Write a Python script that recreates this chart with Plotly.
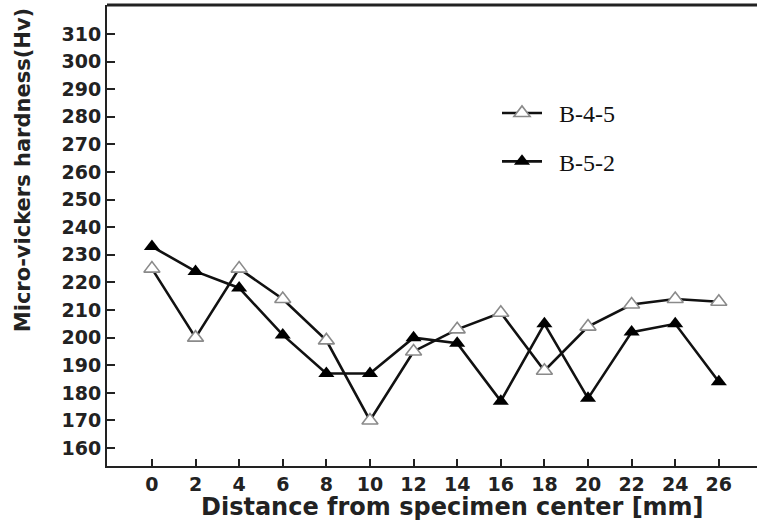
import plotly.graph_objects as go

# Micro-Vickers hardness profiles across the specimen
distance_mm = [0, 2, 4, 6, 8, 10, 12, 14, 16, 18, 20, 22, 24, 26]
hv_b45 = [225, 200, 225, 214, 199, 170, 195, 203, 209, 188, 204, 212, 214, 213]
hv_b52 = [233, 224, 218, 201, 187, 187, 200, 198, 177, 205, 178, 202, 205, 184]
y_ticks = list(range(160, 311, 10))
x_ticks = list(range(0, 27, 2))

fig = go.Figure()
fig.add_trace(go.Scatter(
    x=distance_mm, y=hv_b45, name="\u2002B-4-5", mode="lines+markers",
    line=dict(color="#111111", width=2.6),
    marker=dict(symbol="triangle-up", size=14, color="white",
                line=dict(color="#8a8a8a", width=1.6)),
    legend="legend",
))
fig.add_trace(go.Scatter(
    x=distance_mm, y=hv_b52, name="\u2002B-5-2", mode="lines+markers",
    line=dict(color="#111111", width=2.6),
    marker=dict(symbol="triangle-up", size=14, color="black"),
    legend="legend2",
))

legend_style = dict(font=dict(family="Liberation Serif", size=24, color="#111111"),
                    bgcolor="rgba(255,255,255,0)", borderwidth=0,
                    xanchor="left", yanchor="middle", itemwidth=40)
tick_font = dict(family="DejaVu Sans", size=19, color="#222222", weight="bold")
title_font = dict(family="DejaVu Sans", color="#222222", weight="bold")

fig.update_layout(
    width=757, height=529,
    margin=dict(l=107, r=0, t=5, b=63, pad=0),
    paper_bgcolor="white", plot_bgcolor="white",
    showlegend=True,
    legend=dict(x=0.6, y=0.765, **legend_style),
    legend2=dict(x=0.6, y=0.66, **legend_style),
    xaxis=dict(range=[-2.06, 27.75], tickvals=x_ticks, showline=True, linecolor="#222222",
               linewidth=2, ticks="inside", ticklen=7, tickwidth=2, tickcolor="#222222",
               showgrid=False, zeroline=False, tickfont=tick_font, ticklabelstandoff=0),
    yaxis=dict(range=[153.5, 320.5], tickvals=y_ticks, showline=True, linecolor="#222222",
               linewidth=2, ticks="inside", ticklen=8, tickwidth=2, tickcolor="#222222",
               showgrid=False, zeroline=False, tickfont=tick_font, ticklabelstandoff=0),
)

# Axis titles
fig.add_annotation(text="Distance from specimen center [mm]", xref="paper", yref="paper",
                   x=0.531, y=-0.089, xanchor="center", yanchor="middle", showarrow=False,
                   font=dict(size=24, **title_font))
fig.add_annotation(text="Micro-vickers hardness(Hv)", xref="paper", yref="paper",
                   x=-0.129, y=0.642, xanchor="center", yanchor="middle", showarrow=False,
                   textangle=-90, font=dict(size=21, **title_font))

# Frame line along the top of the plotting area
fig.add_shape(type="line", xref="paper", yref="paper", x0=0, x1=1, y0=1, y1=1,
              line=dict(color="#222222", width=3))

# Keep the page from showing scrollbars around the fixed-size figure
no_scroll = ("document.documentElement.style.overflow='hidden';"
             "document.body.style.overflow='hidden';"
             "document.body.style.margin='0';")

fig.write_html("out.html", config={"displayModeBar": False}, post_script=no_scroll)
